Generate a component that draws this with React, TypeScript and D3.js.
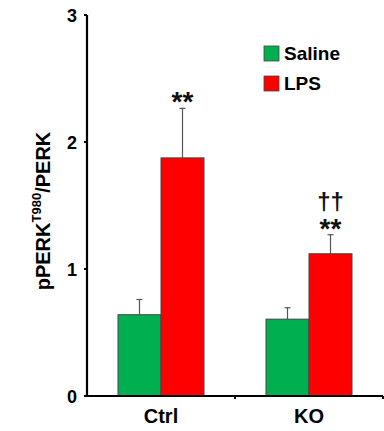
import React from "react";
import * as d3 from "d3";

const groups = ["Ctrl", "KO"];
const series = ["Saline", "LPS"];
const colors = ["#00b050", "#ff0000"];
const means = [
  [0.64, 1.875],
  [0.605, 1.12],
];
const errors = [
  [0.12, 0.39],
  [0.09, 0.15],
];
const marks = [["**"], ["††", "**"]];
const yTicks = [0, 1, 2, 3];

const W = 384;
const H = 431;
const left = 87;
const right = 383;
const top = 15;
const bottom = 396;
const font = "'Liberation Sans', Arial, sans-serif";

export default function App() {
  const y = d3.scaleLinear().domain([0, 3]).range([bottom, top]);
  const x0 = d3.scaleBand().domain(groups).range([left, right]);
  const barW = 43;
  const x1 = d3
    .scaleBand()
    .domain(series)
    .range([0, barW * 2]);

  return (
    <svg
      width={W}
      height={H}
      style={{ position: "absolute", left: 0, top: 0, background: "#fff" }}
      fontFamily={font}
    >
      {/* bars */}
      {groups.map((g, gi) => {
        const gx = x0(g)! + x0.bandwidth() / 2 - barW;
        const lpsCx = gx + x1("LPS")! + barW / 2;
        const errTop = y(means[gi][1] + errors[gi][1]);
        return (
          <g key={g}>
            {series.map((s, si) => {
              const v = means[gi][si];
              const bx = gx + x1(s)!;
              const cx = bx + barW / 2;
              const et = y(v + errors[gi][si]);
              return (
                <g key={s}>
                  <line x1={cx} x2={cx} y1={y(v)} y2={et} stroke="#555" strokeWidth={1.2} />
                  <line x1={cx - 3} x2={cx + 3} y1={et} y2={et} stroke="#555" strokeWidth={1.2} />
                  <rect
                    x={bx}
                    y={y(v)}
                    width={barW}
                    height={bottom - y(v)}
                    fill={colors[si]}
                    stroke="#444"
                    strokeWidth={1}
                  />
                </g>
              );
            })}
            {marks[gi].map((m, mi) =>
              m === "**" ? (
                <text key={mi} x={lpsCx} y={errTop + 3} textAnchor="middle" fontSize={28} fontWeight="bold" fill="#111">
                  {m}
                </text>
              ) : (
                <text key={mi} x={lpsCx} y={errTop - 25} textAnchor="middle" fontSize={24} fontWeight="bold" fill="#111">
                  {m}
                </text>
              )
            )}
          </g>
        );
      })}

      {/* y axis */}
      <line x1={left} x2={left} y1={top} y2={bottom} stroke="#000" strokeWidth={2.2} />
      {yTicks.map((t) => (
        <g key={t}>
          <line x1={left - 3} x2={left} y1={y(t)} y2={y(t)} stroke="#000" strokeWidth={2} />
          <text x={left - 10} y={y(t) + 6.5} textAnchor="end" fontSize={18} fontWeight="bold">
            {t}
          </text>
        </g>
      ))}

      {/* x axis */}
      <line x1={left} x2={right} y1={bottom} y2={bottom} stroke="#000" strokeWidth={2.2} />
      {[x0(groups[1])!, right].map((tx, i) => (
        <line key={i} x1={tx} x2={tx} y1={bottom} y2={bottom + 3} stroke="#000" strokeWidth={2} />
      ))}
      {groups.map((g) => (
        <text
          key={g}
          x={x0(g)! + x0.bandwidth() / 2}
          y={423}
          textAnchor="middle"
          fontSize={20}
          fontWeight="bold"
        >
          {g}
        </text>
      ))}

      {/* y label */}
      <text
        transform={`translate(50, 211) rotate(-90)`}
        textAnchor="middle"
        fontSize={20}
        fontWeight="bold"
      >
        pPERK
        <tspan fontSize={13} dy={-9}>T980</tspan>
        <tspan dy={9}>/PERK</tspan>
      </text>

      {/* legend */}
      {series.map((s, i) => (
        <g key={s} transform={`translate(264, ${46 + i * 30})`}>
          <rect width={15} height={15} fill={colors[i]} stroke="#444" strokeWidth={0.8} />
          <text x={20} y={14} fontSize={19} fontWeight="bold">
            {s}
          </text>
        </g>
      ))}
    </svg>
  );
}
